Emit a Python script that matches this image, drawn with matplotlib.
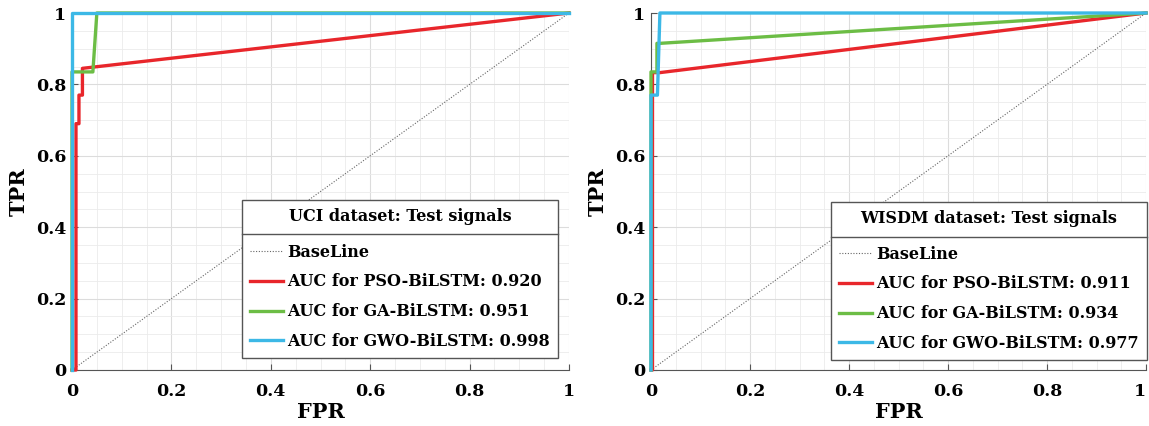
import matplotlib
matplotlib.use("Agg")
import matplotlib.pyplot as plt
from matplotlib.lines import Line2D
from matplotlib.ticker import MultipleLocator

plt.rcParams['font.family'] = ['DejaVu Serif']
plt.rcParams['font.weight'] = 'bold'

# ---- data ----
baseline_x = [0, 1]
baseline_y = [0, 1]

uci_pso_fpr = [0, 0.008, 0.008, 0.014, 0.014, 0.021, 0.021, 1.0]
uci_pso_tpr = [0, 0.0, 0.69, 0.69, 0.77, 0.77, 0.845, 1.0]
uci_ga_fpr = [0, 0.0, 0.042, 0.050, 1.0]
uci_ga_tpr = [0, 0.835, 0.835, 1.0, 1.0]
uci_gwo_fpr = [0, 0.0, 1.0]
uci_gwo_tpr = [0, 1.0, 1.0]

wisdm_pso_fpr = [0, 0.003, 0.003, 0.018, 1.0]
wisdm_pso_tpr = [0, 0.0, 0.833, 0.833, 1.0]
wisdm_ga_fpr = [0, 0.0, 0.012, 0.012, 0.018, 1.0]
wisdm_ga_tpr = [0, 0.835, 0.835, 0.915, 0.915, 1.0]
wisdm_gwo_fpr = [0, 0.0, 0.013, 0.018, 1.0]
wisdm_gwo_tpr = [0, 0.77, 0.77, 1.0, 1.0]

uci_labels = ["BaseLine", "AUC for PSO-BiLSTM: 0.920", "AUC for GA-BiLSTM: 0.951", "AUC for GWO-BiLSTM: 0.998"]
wisdm_labels = ["BaseLine", "AUC for PSO-BiLSTM: 0.911", "AUC for GA-BiLSTM: 0.934", "AUC for GWO-BiLSTM: 0.977"]
titles = ["UCI dataset: Test signals", "WISDM dataset: Test signals"]
ticks = [0, 0.2, 0.4, 0.6, 0.8, 1]
tick_labels = ["0", "0.2", "0.4", "0.6", "0.8", "1"]

RED = "#e8262b"
GREEN = "#6cbd45"
CYAN = "#3cb8e6"
LW = 2.4
LEG_FS = 11.5

fig = plt.figure(figsize=(11.49, 4.26), dpi=100)
ax1 = fig.add_axes([72/1149, 1-370/426, (569-72)/1149, (370-13)/426])
ax2 = fig.add_axes([651/1149, 1-370/426, (1146-651)/1149, (370-13)/426])

datasets = [
    (ax1, uci_pso_fpr, uci_pso_tpr, uci_ga_fpr, uci_ga_tpr, uci_gwo_fpr, uci_gwo_tpr, uci_labels, titles[0], (0.978, 0.034)),
    (ax2, wisdm_pso_fpr, wisdm_pso_tpr, wisdm_ga_fpr, wisdm_ga_tpr, wisdm_gwo_fpr, wisdm_gwo_tpr, wisdm_labels, titles[1], (1.002, 0.028)),
]

legends = []
for ax, pf, pt, gf, gt, wf, wt, labels, title, anchor in datasets:
    ax.set_xlim(0, 1)
    ax.set_ylim(0, 1)
    ax.xaxis.set_minor_locator(MultipleLocator(0.05))
    ax.yaxis.set_minor_locator(MultipleLocator(0.05))
    ax.grid(True, which='major', color='#dcdcdc', linewidth=0.8)
    ax.grid(True, which='minor', color='#ebebeb', linewidth=0.6)
    ax.set_axisbelow(True)
    for s in ['top', 'right']:
        ax.spines[s].set_visible(False)
    for s in ['left', 'bottom']:
        ax.spines[s].set_color('#555555')
        ax.spines[s].set_linewidth(0.8)
    ax.set_xticks(ticks)
    ax.set_xticklabels(tick_labels)
    ax.set_yticks(ticks)
    ax.set_yticklabels(tick_labels)
    ax.tick_params(which='major', direction='in', length=4, width=0.8, color='#555555', labelsize=12.5)
    ax.tick_params(axis='x', pad=9)
    ax.tick_params(axis='y', pad=4)
    ax.tick_params(which='minor', length=0)
    for lab in ax.get_xticklabels() + ax.get_yticklabels():
        lab.set_fontweight('bold')
    ax.set_xlabel("FPR", fontsize=15, fontweight='bold', labelpad=2)
    ax.set_ylabel("TPR", fontsize=15, fontweight='bold', labelpad=5)

    ax.plot(baseline_x, baseline_y, linestyle=(0, (1, 1.5)), color='#666666', linewidth=0.8, label=labels[0])
    ax.plot(pf, pt, color=RED, linewidth=LW, label=labels[1], clip_on=False, zorder=3)
    ax.plot(gf, gt, color=GREEN, linewidth=LW, label=labels[2], clip_on=False, zorder=3)
    ax.plot(wf, wt, color=CYAN, linewidth=LW, label=labels[3], clip_on=False, zorder=4)

    leg = ax.legend(loc='lower right', bbox_to_anchor=anchor, title=title, fancybox=False,
                    framealpha=1, edgecolor='#555555', prop={'weight': 'bold', 'size': LEG_FS},
                    title_fontproperties={'weight': 'bold', 'size': LEG_FS},
                    handlelength=2.1, handletextpad=0.25, labelspacing=0.8, borderpad=0.5,
                    borderaxespad=0)
    leg._legend_box.sep = 0.8 * LEG_FS + 4.0
    leg.get_frame().set_linewidth(1.0)
    leg.set_zorder(10)
    legends.append(leg)

# keep the last x tick label of the right panel inside the figure
ax2.get_xticklabels()[-1].set_horizontalalignment('right')

fig.canvas.draw()
renderer = fig.canvas.get_renderer()
inv = fig.transFigure.inverted()
for leg in legends:
    fb = leg.get_frame().get_window_extent()
    tb = leg.get_title().get_window_extent()
    hb = leg._legend_handle_box.get_window_extent(renderer)
    ysep = (tb.y0 + hb.y1) / 2.0
    (x0, y0) = inv.transform((fb.x0, ysep))
    (x1, _) = inv.transform((fb.x1, ysep))
    fig.add_artist(Line2D([x0, x1], [y0, y0], transform=fig.transFigure, color='#555555', linewidth=1.0, zorder=20))

fig.savefig("out.png", dpi=100)
